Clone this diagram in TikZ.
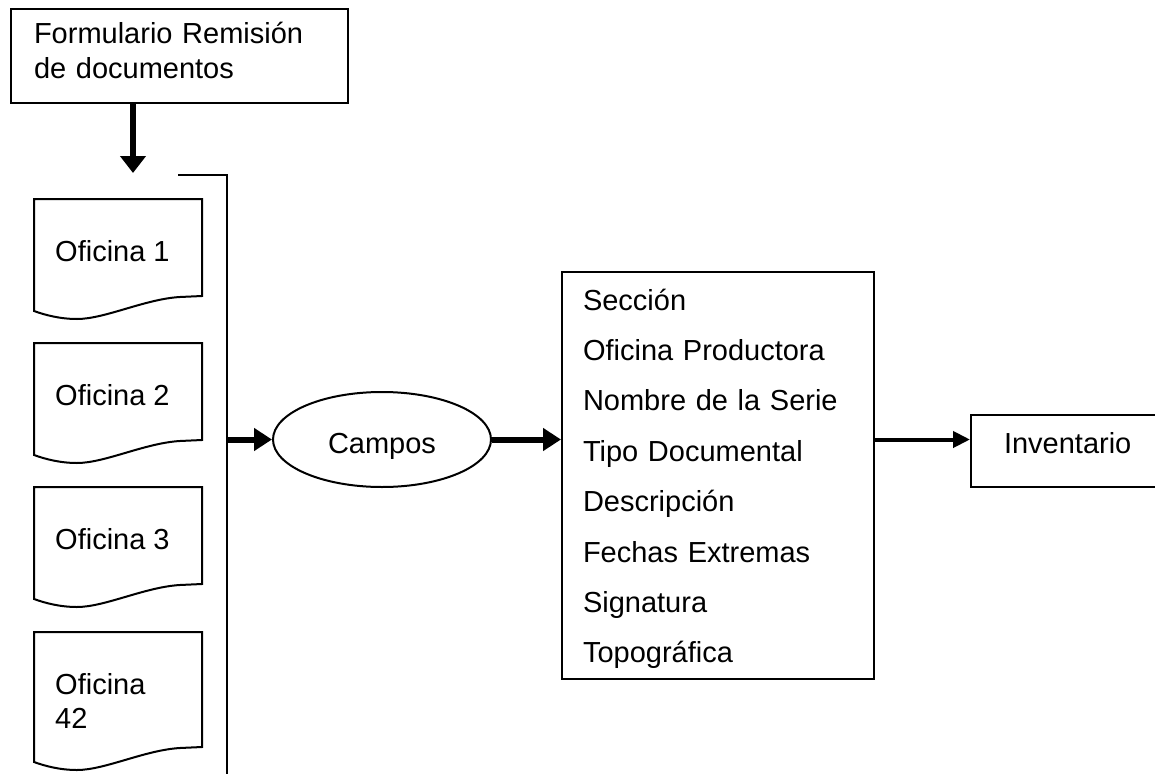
\documentclass[tikz,border=0pt]{standalone}
\usepackage{fontspec}
\setmainfont{Liberation Sans}
\usetikzlibrary{arrows.meta,shapes.geometric}
% oficina: name, top, height, text
\newcommand{\oficina}[4]{
 \node[oftxt] (#1) at (55,{#2+41}) {#4};
 \draw[borde] (34,#2) -- (202,#2) -- (202,{#2+#3}) -- (180,{#2+#3+1})
  .. controls (145,{#2+#3+3}) and (105,{#2+#3+23}) .. (77,{#2+#3+23})
  .. controls (60,{#2+#3+23}) and (45,{#2+#3+19}) .. (34,{#2+#3+15}) -- cycle;
}

\begin{document}
\begin{tikzpicture}[x=1pt,y=-1pt,font=\fontsize{29}{34.3}\selectfont,
 borde/.style={line width=2pt},
 caja/.style={draw,line width=2pt,rectangle,inner ysep=0pt,align=left},
 oftxt/.style={anchor=north west,inner sep=0pt,align=left},
 flecha/.style={line width=6pt,-{Triangle[length=18pt,width=22pt]}},
 flechita/.style={line width=4pt,-{Triangle[length=17pt,width=16pt]}}]
\clip (0,0) rectangle (1155,773);
\node[caja,anchor=north west,minimum width=337pt,minimum height=94pt,text width=291pt,inner xsep=23pt,text height=10pt] (form) at (10,8) {Formulario Remisión\\de documentos};
\coordinate (punta) at (133,173);
\coordinate (brk) at (227,175);
\draw[flecha,-{Triangle[length=17pt,width=25pt]}] (form.south -| punta) -- (punta);
\draw[borde] (178,175) -- (brk) -- (brk |- 0,790);
\foreach \i in {1,2,3} {
 \pgfmathsetmacro\ysup{199+144*(\i-1)}
 \oficina{of\i}{\ysup}{97}{Oficina \i}
 }
\oficina{of42}{632}{115}{Oficina\\42}
\node[ellipse,draw,line width=2pt,minimum width=218pt,minimum height=95pt,text height=27pt,text depth=0pt] (campos) at (382,439.5) {Campos};
\node[caja,minimum width=312pt,minimum height=407pt,text width=270pt,inner xsep=21pt,text height=27pt,text depth=358pt,font=\fontsize{29}{50.4}\selectfont] (lista) at (718,475.5) {Sección\\Oficina Productora\\Nombre de la Serie\\Tipo Documental\\Descripción\\Fechas Extremas\\Signatura\\Topográfica};
\node[caja,anchor=west,minimum width=200pt,minimum height=72pt,text width=134pt,inner xsep=33pt,text depth=17pt] (inv) at (970,451) {Inventario};
\draw[flecha] (campos.west -| brk) -- (campos.west);
\draw[flecha] (campos.east) -- (campos.east -| lista.west);
\draw[flechita] (campos.east -| lista.east) -- (campos.east -| inv.west);
\end{tikzpicture}
\end{document}
